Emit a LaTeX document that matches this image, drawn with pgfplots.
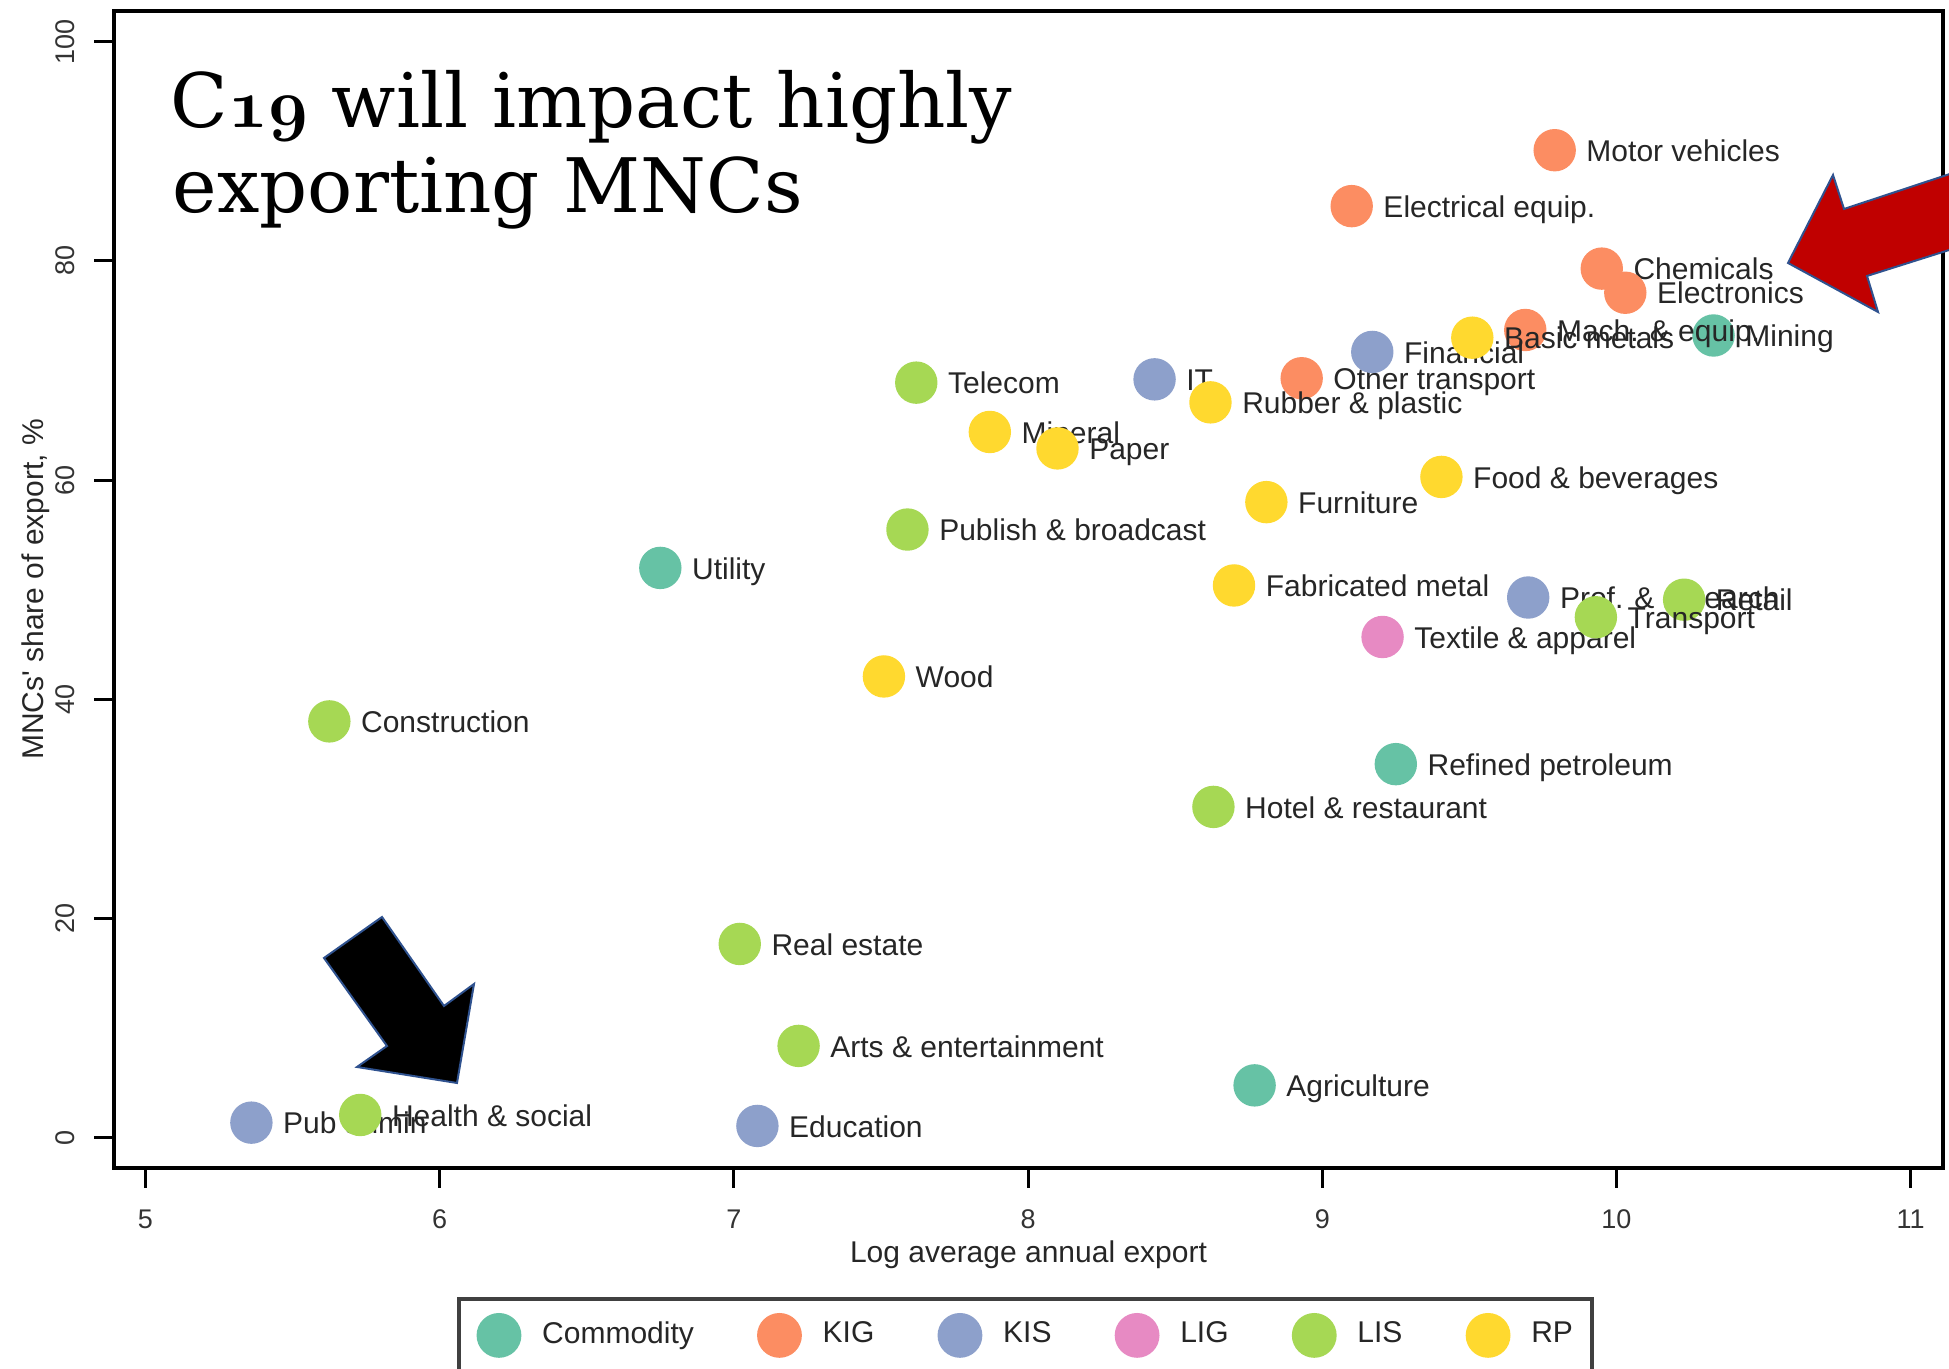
\documentclass[border=0pt]{standalone}
\usepackage{fontspec}
\newfontfamily\arial{Liberation Sans}
\newfontfamily\titlefont{DejaVu Serif}
\usepackage{pgfplots}
\pgfplotsset{compat=1.18}
\definecolor{cCom}{HTML}{66C2A5}
\definecolor{cKIG}{HTML}{FC8D62}
\definecolor{cKIS}{HTML}{8DA0CB}
\definecolor{cLIG}{HTML}{E78AC3}
\definecolor{cLIS}{HTML}{A6D854}
\definecolor{cRP}{HTML}{FFD92F}
\definecolor{arrowblue}{HTML}{2F528F}
\definecolor{arrowred}{HTML}{C00000}
\newcommand\osf[1]{{\usefont{OML}{cmm}{b}{it}#1}}
\begin{document}
\begin{tikzpicture}
\path[use as bounding box] (0,0) rectangle (487.25pt,342.25pt);
\begin{axis}[
 at={(28.5pt,50.25pt)}, anchor=south west,
 scale only axis, width=457.25pt, height=289.25pt,
 xmin=4.893, xmax=11.110, ymin=-2.736, ymax=102.8,
 xtick={5,6,7,8,9,10,11}, ytick={0,20,40,60,80,100},
 tick align=outside, xtick pos=bottom, ytick pos=left,
 major tick length=5pt,
 every tick/.style={black, line width=0.75pt},
 axis line style={line width=1pt},
 tick label style={font=\arial\fontsize{6.75}{8}\selectfont, color=black!80},
 /pgf/number format/assume math mode=true,
 xticklabel style={anchor=north, inner sep=0pt},
 yticklabel style={rotate=90, anchor=south, inner sep=0pt},
 xticklabel shift=5.3pt,
 yticklabel shift=4.7pt,
 label style={font=\arial\fontsize{7.5}{9}\selectfont, color=black!85, inner sep=0pt},
 xlabel={Log average annual export},
 ylabel={MNCs' share of export, \%},
 xlabel style={at={(axis description cs:0.5,-0.08125)}, anchor=base},
 ylabel style={at={(axis description cs:-0.0388,0.5)}, anchor=base},
 clip=false,
 only marks,
 point meta=explicit symbolic,
 nodes near coords={\pgfplotspointmeta},
 every node near coord/.style={anchor=base west, inner sep=0pt, xshift=7.75pt, yshift=-2.8pt, font=\arial\fontsize{7.5}{9}\selectfont, color=black!85},
 legend columns=6,
 legend style={at={(axis description cs:0.4985,-0.1115)}, anchor=north, draw=black!75, line width=1pt, inner xsep=4.8pt, inner ysep=4pt, font=\arial\fontsize{7.5}{9}\selectfont, text=black!85, nodes={inner sep=0pt}, /tikz/every odd column/.append style={column sep=5.7pt}, /tikz/every even column/.append style={column sep=16.3pt}},
 legend image code/.code={\draw[#1] plot coordinates {(0pt,0pt)};},
]
\addplot[mark=*, mark size=5.1pt, color=cCom, mark options={draw=none, fill=cCom}] coordinates {
 (10.33,73.2) [Mining]
 (6.75,52.0) [Utility]
 (9.25,34.1) [Refined petroleum]
 (8.77,4.8) [Agriculture]
};
\addlegendentry{Commodity}
\addplot[mark=*, mark size=5.1pt, color=cKIG, mark options={draw=none, fill=cKIG}] coordinates {
 (9.79,90.1) [Motor vehicles]
 (9.10,85.0) [Electrical equip.]
 (9.95,79.3) [Chemicals]
 (10.03,77.1) [Electronics]
 (9.69,73.7) [Mach. \& equip.]
 (8.93,69.3) [Other transport]
};
\addlegendentry{KIG}
\addplot[mark=*, mark size=5.1pt, color=cKIS, mark options={draw=none, fill=cKIS}] coordinates {
 (9.17,71.7) [Financial]
 (8.43,69.2) [IT]
 (9.70,49.3) [Prof. \& research]
 (5.36,1.4) [Pub admin]
 (7.08,1.1) [Education]
};
\addlegendentry{KIS}
\addplot[mark=*, mark size=5.1pt, color=cLIG, mark options={draw=none, fill=cLIG}] coordinates {
 (9.205,45.7) [Textile \& apparel]
};
\addlegendentry{LIG}
\addplot[mark=*, mark size=5.1pt, color=cLIS, mark options={draw=none, fill=cLIS}] coordinates {
 (7.62,68.9) [Telecom]
 (7.59,55.5) [Publish \& broadcast]
 (10.23,49.1) [Retail]
 (9.93,47.5) [Transport]
 (5.625,38.0) [Construction]
 (8.63,30.2) [Hotel \& restaurant]
 (7.02,17.7) [Real estate]
 (7.22,8.4) [Arts \& entertainment]
 (5.73,2.1) [Health \& social]
};
\addlegendentry{LIS}
\addplot[mark=*, mark size=5.1pt, color=cRP, mark options={draw=none, fill=cRP}] coordinates {
 (9.51,73.0) [Basic metals]
 (8.62,67.1) [Rubber \& plastic]
 (7.87,64.4) [Mineral]
 (8.10,62.9) [Paper]
 (9.405,60.3) [Food \& beverages]
 (8.81,58.0) [Furniture]
 (8.70,50.4) [Fabricated metal]
 (7.51,42.1) [Wood]
};
\addlegendentry{RP}
\end{axis}
\begin{scope}[x=0.25pt, y=-0.25pt, yshift=342.25pt]
\node[anchor=base west, inner sep=0pt, font=\titlefont\fontsize{18.8}{22}\selectfont] at (170,128) {C\osf{19} will impact highly};
\node[anchor=base west, inner sep=0pt, font=\titlefont\fontsize{18.8}{22}\selectfont] at (172,213) {exporting MNCs};
\filldraw[fill=arrowred, draw=arrowblue, line width=0.5pt] (1788,263) -- (1833,175) -- (1844,209) -- (1965,169) -- (1965,245) -- (1867,276) -- (1878,312) -- cycle;
\filldraw[fill=black, draw=arrowblue, line width=0.5pt] (324,958) -- (382,917) -- (444,1006) -- (474,984) -- (457,1083) -- (357,1067) -- (387,1046) -- cycle;
\end{scope}
\end{tikzpicture}
\end{document}
